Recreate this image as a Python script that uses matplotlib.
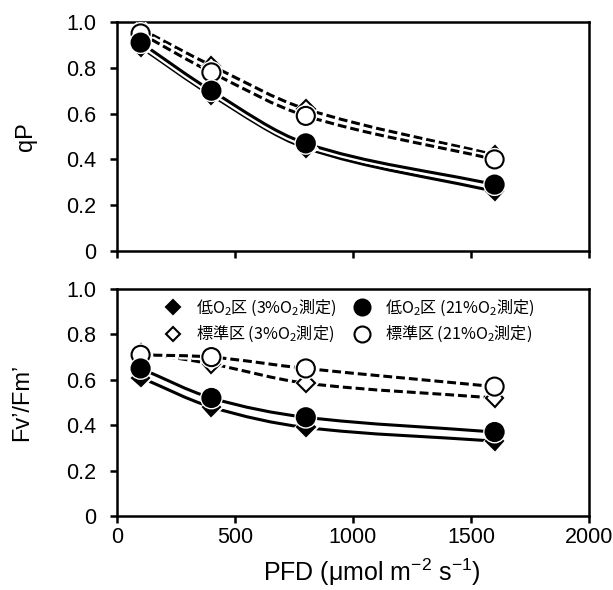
import numpy as np
import matplotlib.pyplot as plt
from matplotlib.path import Path
from matplotlib.patches import PathPatch
from matplotlib.lines import Line2D
import matplotlib.patheffects as pe

plt.rcParams['font.family'] = ['Liberation Sans', 'Noto Sans CJK JP', 'DejaVu Sans']
plt.rcParams['mathtext.default'] = 'regular'

pfd = [100, 400, 800, 1600]

# qP
qp_low3 = [0.89, 0.68, 0.45, 0.26]
qp_low21 = [0.91, 0.70, 0.47, 0.29]
qp_std3 = [0.97, 0.81, 0.62, 0.42]
qp_std21 = [0.95, 0.78, 0.59, 0.40]

# Fv'/Fm'
fv_low3 = [0.61, 0.48, 0.39, 0.33]
fv_low21 = [0.65, 0.52, 0.435, 0.37]
fv_std3 = [0.72, 0.67, 0.585, 0.52]
fv_std21 = [0.71, 0.70, 0.65, 0.57]

labels = ['低O$_2$区 (3%O$_2$測定)', '標準区 (3%O$_2$測定)',
          '低O$_2$区 (21%O$_2$測定)', '標準区 (21%O$_2$測定)']

halo = [pe.Stroke(linewidth=5.5, foreground='white'), pe.Normal()]
mhalo = [pe.Stroke(linewidth=3.5, foreground='white'), pe.Normal()]


def smooth_path(x, y):
    # smoothed line (cubic segments through the points, like Excel's smooth line)
    x = np.asarray(x, float)
    y = np.asarray(y, float)
    n = len(x)
    m = np.zeros(n)
    m[0] = (y[1] - y[0]) / (x[1] - x[0])
    m[-1] = (y[-1] - y[-2]) / (x[-1] - x[-2])
    for i in range(1, n - 1):
        m[i] = (y[i + 1] - y[i - 1]) / (x[i + 1] - x[i - 1])
    verts = [(x[0], y[0])]
    codes = [Path.MOVETO]
    for i in range(n - 1):
        h = (x[i + 1] - x[i]) / 3
        verts += [(x[i] + h, y[i] + m[i] * h), (x[i + 1] - h, y[i + 1] - m[i + 1] * h),
                  (x[i + 1], y[i + 1])]
        codes += [Path.CURVE4] * 3
    return Path(verts, codes)


def draw_series(ax, y, ls, marker, face, ms, z):
    patch = PathPatch(smooth_path(pfd, y), fill=False, lw=2.2,
                      edgecolor='black', zorder=2, capstyle='butt')
    if ls == '--':
        patch.set_linestyle((0, (2.9, 1.3)))
    patch.set_path_effects(halo)
    ax.add_patch(patch)
    ln, = ax.plot(pfd, y, ls='none', marker=marker, ms=ms, mfc=face,
                  mec='black', mew=1.5, zorder=z)
    ln.set_path_effects(mhalo)


fig = plt.figure(figsize=(6.13, 5.9), dpi=100)
ax1 = fig.add_axes([117 / 613, 1 - 251 / 590, 472 / 613, 229 / 590])
ax2 = fig.add_axes([117 / 613, 1 - 516 / 590, 472 / 613, 227 / 590])

for ax, d in [(ax1, (qp_low3, qp_low21, qp_std3, qp_std21)),
              (ax2, (fv_low3, fv_low21, fv_std3, fv_std21))]:
    low3, low21, std3, std21 = d
    draw_series(ax, std3, '--', 'D', 'white', 9, 3)
    draw_series(ax, std21, '--', 'o', 'white', 13, 4)
    draw_series(ax, low3, '-', 'D', 'black', 9, 3)
    draw_series(ax, low21, '-', 'o', 'black', 13, 4)

    ax.set_xlim(0, 2000)
    ax.set_ylim(0, 1.0)
    ax.set_xticks([0, 500, 1000, 1500, 2000])
    ax.set_yticks([0, 0.2, 0.4, 0.6, 0.8, 1.0])
    ax.set_yticklabels(['0', '0.2', '0.4', '0.6', '0.8', '1.0'])
    for s in ax.spines.values():
        s.set_linewidth(1.8)
    ax.tick_params(direction='out', length=5, width=1.8, labelsize=15.5)
    ax.tick_params(axis='y', pad=10)
    ax.tick_params(axis='x', pad=3)

ax1.set_xticklabels([])
ax1.set_ylabel('qP', fontsize=17)
ax1.yaxis.set_label_coords(-0.17, 0.5)
ax2.set_ylabel('Fv’/Fm’', fontsize=17)
ax2.yaxis.set_label_coords(-0.178, 0.5)
ax2.set_xlabel('PFD (μmol m$^{-2}$ s$^{-1}$)', fontsize=18)
ax2.xaxis.set_label_coords(0.54, -0.18)

handles = [
    Line2D([], [], ls='none', marker='D', ms=7.5, mfc='black', mec='black', mew=1.5),
    Line2D([], [], ls='none', marker='D', ms=7.5, mfc='white', mec='black', mew=1.5),
    Line2D([], [], ls='none', marker='o', ms=11.5, mfc='black', mec='black', mew=1.5),
    Line2D([], [], ls='none', marker='o', ms=11.5, mfc='white', mec='black', mew=1.5),
]
ax2.legend(handles, labels, ncol=2, loc='upper left', bbox_to_anchor=(0.07, 1.02),
           frameon=False, prop={'family': 'Noto Sans CJK JP', 'size': 11.6},
           handlelength=1.2, handletextpad=0.85, columnspacing=0.95, labelspacing=0.4,
           borderpad=0.3)

fig.savefig('out.png', dpi=100)
